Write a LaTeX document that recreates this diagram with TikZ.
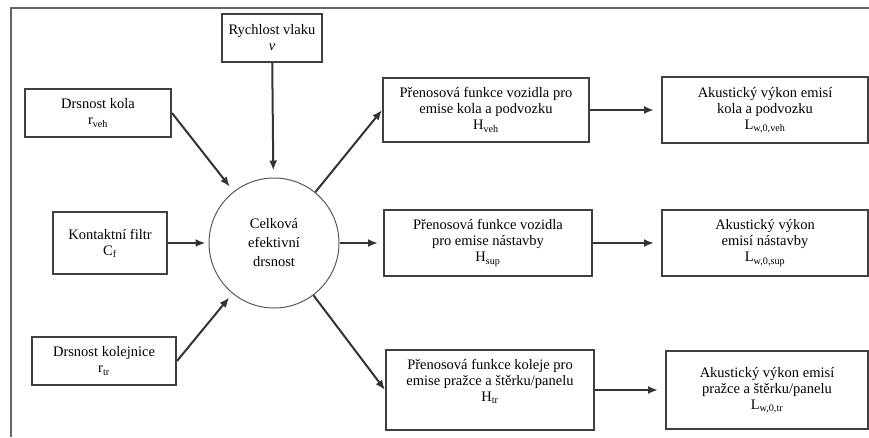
\documentclass[tikz,border=0pt]{standalone}
\usepackage{fontspec}
\setmainfont{Liberation Serif}
\usetikzlibrary{arrows.meta}

\begin{document}
\begin{tikzpicture}[x=1pt, y=-1pt,
		box/.style={draw=black!75, line width=2pt, align=center, inner sep=2pt,
			font=\fontsize{14.5}{16}\selectfont},
		arr/.style={draw=black!80, line width=2pt, -{Latex[length=10pt,width=8pt]}}]
		\useasboundingbox (0,0) rectangle (869,437);
		\draw[black!60, line width=1.2pt] (869,8) -- (11,8) -- (11,437);
		
		\node[box, minimum width=100pt, minimum height=48pt] (speed) at (272,38) {Rychlost vlaku\\\textit{v}};
		\node[box, minimum width=146pt, minimum height=48pt] (wheel) at (98,113) {Drsnost kola\\r\textsubscript{veh}};
		\node[box, minimum width=114pt, minimum height=62pt] (filter) at (110,243) {Kontaktní filtr\\C\textsubscript{f}};
		\node[box, minimum width=144pt, minimum height=48pt] (rail) at (104,361) {Drsnost kolejnice\\r\textsubscript{tr}};
		
		\node[draw=black!65, line width=1pt, circle, minimum size=130pt, inner sep=0pt, align=center,
			font=\fontsize{14.5}{19}\selectfont] (circ) at (274,243) {Celková\\efektivní\\drsnost};
		
		\node[box, minimum width=206pt, minimum height=64pt] (hveh) at (486,110) {Přenosová funkce vozidla pro\\emise kola a podvozku\\H\textsubscript{veh}};
		\node[box, minimum width=208pt, minimum height=66pt] (hsup) at (488,243) {Přenosová funkce vozidla\\pro emise nástavby\\H\textsubscript{sup}};
		\node[box, minimum width=208pt, minimum height=80pt] (htr) at (490,390) {Přenosová funkce koleje pro\\emise pražce a štěrku/panelu\\H\textsubscript{tr}\\[4pt]};
		
		\node[box, minimum width=206pt, minimum height=66pt] (lveh) at (765,110) {Akustický výkon emisí\\kola a podvozku\\L\textsubscript{w,0,veh}};
		\node[box, minimum width=206pt, minimum height=66pt] (lsup) at (765,243) {Akustický výkon\\emisí nástavby\\L\textsubscript{w,0,sup}};
		\node[box, minimum width=202pt, minimum height=78pt] (ltr) at (767,390) {Akustický výkon emisí\\pražce a štěrku/panelu\\L\textsubscript{w,0,tr}};
		
		\draw[arr, shorten >=7pt] (speed) -- (circ);
		\draw[arr, shorten >=6pt] (wheel.east) -- (circ);
		\draw[arr, shorten >=3pt] (filter) -- (circ);
		\draw[arr, shorten >=5pt] (rail.east) -- (circ);
		
		\draw[arr] (circ) -- (hveh.west);
		\draw[arr, shorten >=5pt] (circ) -- (hsup);
		\draw[arr] (circ) -- (htr.west);
		
		\draw[arr, shorten >=7pt] (hveh) -- (lveh);
		\draw[arr, shorten >=7pt] (hsup) -- (lsup);
		\draw[arr, shorten >=7pt] (htr) -- (ltr);
	\end{tikzpicture}
\end{document}
